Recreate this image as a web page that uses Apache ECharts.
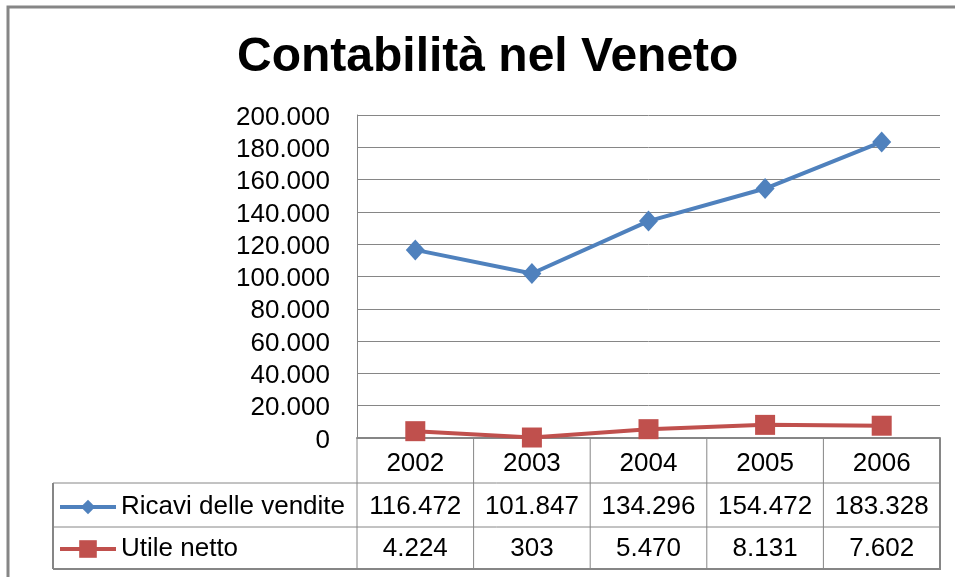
<!DOCTYPE html>
<html>
<head>
<meta charset="utf-8">
<script src="https://cdn.jsdelivr.net/npm/echarts@6/dist/echarts.min.js"></script>
<style>
  html, body { margin: 0; padding: 0; background: #fff; }
  #main { width: 955px; height: 577px; }
</style>
</head>
<body>
<div id="main"></div>
<script>
// dati
var anni = ['2002', '2003', '2004', '2005', '2006'];
var ricavi = [116472, 101847, 134296, 154472, 183328];
var utile = [4224, 303, 5470, 8131, 7602];
var nomeRicavi = 'Ricavi delle vendite';
var nomeUtile = 'Utile netto';

var BLU = '#4F81BD';
var ROSSO = '#C0504D';
var GRIGIO = '#868686';
var FONT = '"Liberation Sans", Arial, sans-serif';

// separatore delle migliaia all'italiana
function fmt(v) {
	return String(v).replace(/\B(?=(\d{3})+(?!\d))/g, '.');
}

var myChart = echarts.init(document.getElementById('main'));

var option = {
	animation: false,
	backgroundColor: '#fff',
	title: {
		text: 'Contabilità nel Veneto',
		left: 232,
		top: 29,
		textStyle: { fontFamily: FONT, fontSize: 48, fontWeight: 'bold', color: '#000' }
	},
	legend: [
		{
			data: [nomeRicavi],
			left: 58, top: 494,
			padding: 0,
			selectedMode: false,
			itemWidth: 56, itemHeight: 18,
			lineStyle: { width: 4 },
			textStyle: { fontFamily: FONT, fontSize: 26, color: '#000' }
		},
		{
			data: [nomeUtile],
			left: 58, top: 536,
			padding: 0,
			selectedMode: false,
			itemWidth: 56, itemHeight: 22,
			lineStyle: { width: 4 },
			textStyle: { fontFamily: FONT, fontSize: 26, color: '#000' }
		}
	],
	grid: { left: 357, top: 115, width: 583, height: 323 },
	xAxis: {
		type: 'category',
		data: anni,
		axisLine: { lineStyle: { color: GRIGIO, width: 2 } },
		axisTick: { show: false },
		axisLabel: { show: false }
	},
	yAxis: {
		type: 'value',
		min: 0, max: 200000, interval: 20000,
		axisLine: { show: true, lineStyle: { color: GRIGIO, width: 1 } },
		axisTick: { show: false },
		splitLine: { lineStyle: { color: GRIGIO, width: 1 } },
		axisLabel: {
			margin: 27,
			fontFamily: FONT, fontSize: 26, color: '#000',
			formatter: function (v) { return '{a|' + fmt(v) + '}'; },
			rich: { a: { fontFamily: FONT, fontSize: 26, color: '#000', padding: [5, 0, 0, 0] } }
		}
	},
	series: [
		{
			name: nomeRicavi,
			type: 'line',
			data: ricavi,
			symbol: 'diamond',
			symbolSize: [19, 21],
			itemStyle: { color: BLU },
			lineStyle: { color: BLU, width: 4 }
		},
		{
			name: nomeUtile,
			type: 'line',
			data: utile,
			symbol: 'rect',
			symbolSize: 20,
			itemStyle: { color: ROSSO },
			lineStyle: { color: ROSSO, width: 4 }
		}
	]
};
myChart.setOption(option);

// tabella dati sotto il grafico
function disegnaTabella() {
	var centri = [];
	for (var i = 0; i < anni.length; i++) {
		centri.push(myChart.convertToPixel({ xAxisIndex: 0 }, anni[i]));
	}
	var mezza = (centri[1] - centri[0]) / 2;
	var xDx = centri[centri.length - 1] + mezza;
	var y0 = myChart.convertToPixel({ yAxisIndex: 0 }, 0);
	var righe = [y0, y0 + 45, y0 + 89, y0 + 131];
	var xTab = 53;

	var el = [];
	function linea(x1, y1, x2, y2, w) {
		el.push({ type: 'line', shape: { x1: x1, y1: y1, x2: x2, y2: y2 },
			style: { stroke: GRIGIO, lineWidth: w || 1 }, silent: true });
	}
	function testo(x, y, t) {
		el.push({ type: 'text', x: x, y: y, silent: true,
			style: { text: t, fill: '#000', font: '26px ' + FONT, align: 'center', verticalAlign: 'middle' } });
	}

	// bordi verticali
	for (var c = 0; c <= anni.length; c++) {
		var x = centri[0] - mezza + c * mezza * 2;
		linea(x, y0, x, righe[3], c === anni.length ? 2 : 1);
	}
	linea(xTab, righe[1], xTab, righe[3], 2);
	// bordi orizzontali
	linea(xTab, righe[1], xDx, righe[1], 1);
	linea(xTab, righe[2], xDx, righe[2], 1);
	linea(xTab, righe[3], xDx + 1, righe[3], 2);

	for (var k = 0; k < anni.length; k++) {
		testo(centri[k], (righe[0] + righe[1]) / 2 + 3, anni[k]);
		testo(centri[k], (righe[1] + righe[2]) / 2 + 2, fmt(ricavi[k]));
		testo(centri[k], (righe[2] + righe[3]) / 2 + 1, fmt(utile[k]));
	}

	// cornice esterna del grafico
	el.push({ type: 'rect', shape: { x: 8, y: 7, width: 1000, height: 700 },
		style: { fill: null, stroke: GRIGIO, lineWidth: 3 }, silent: true });

	myChart.setOption({ graphic: el });
}
disegnaTabella();
</script>
</body>
</html>
